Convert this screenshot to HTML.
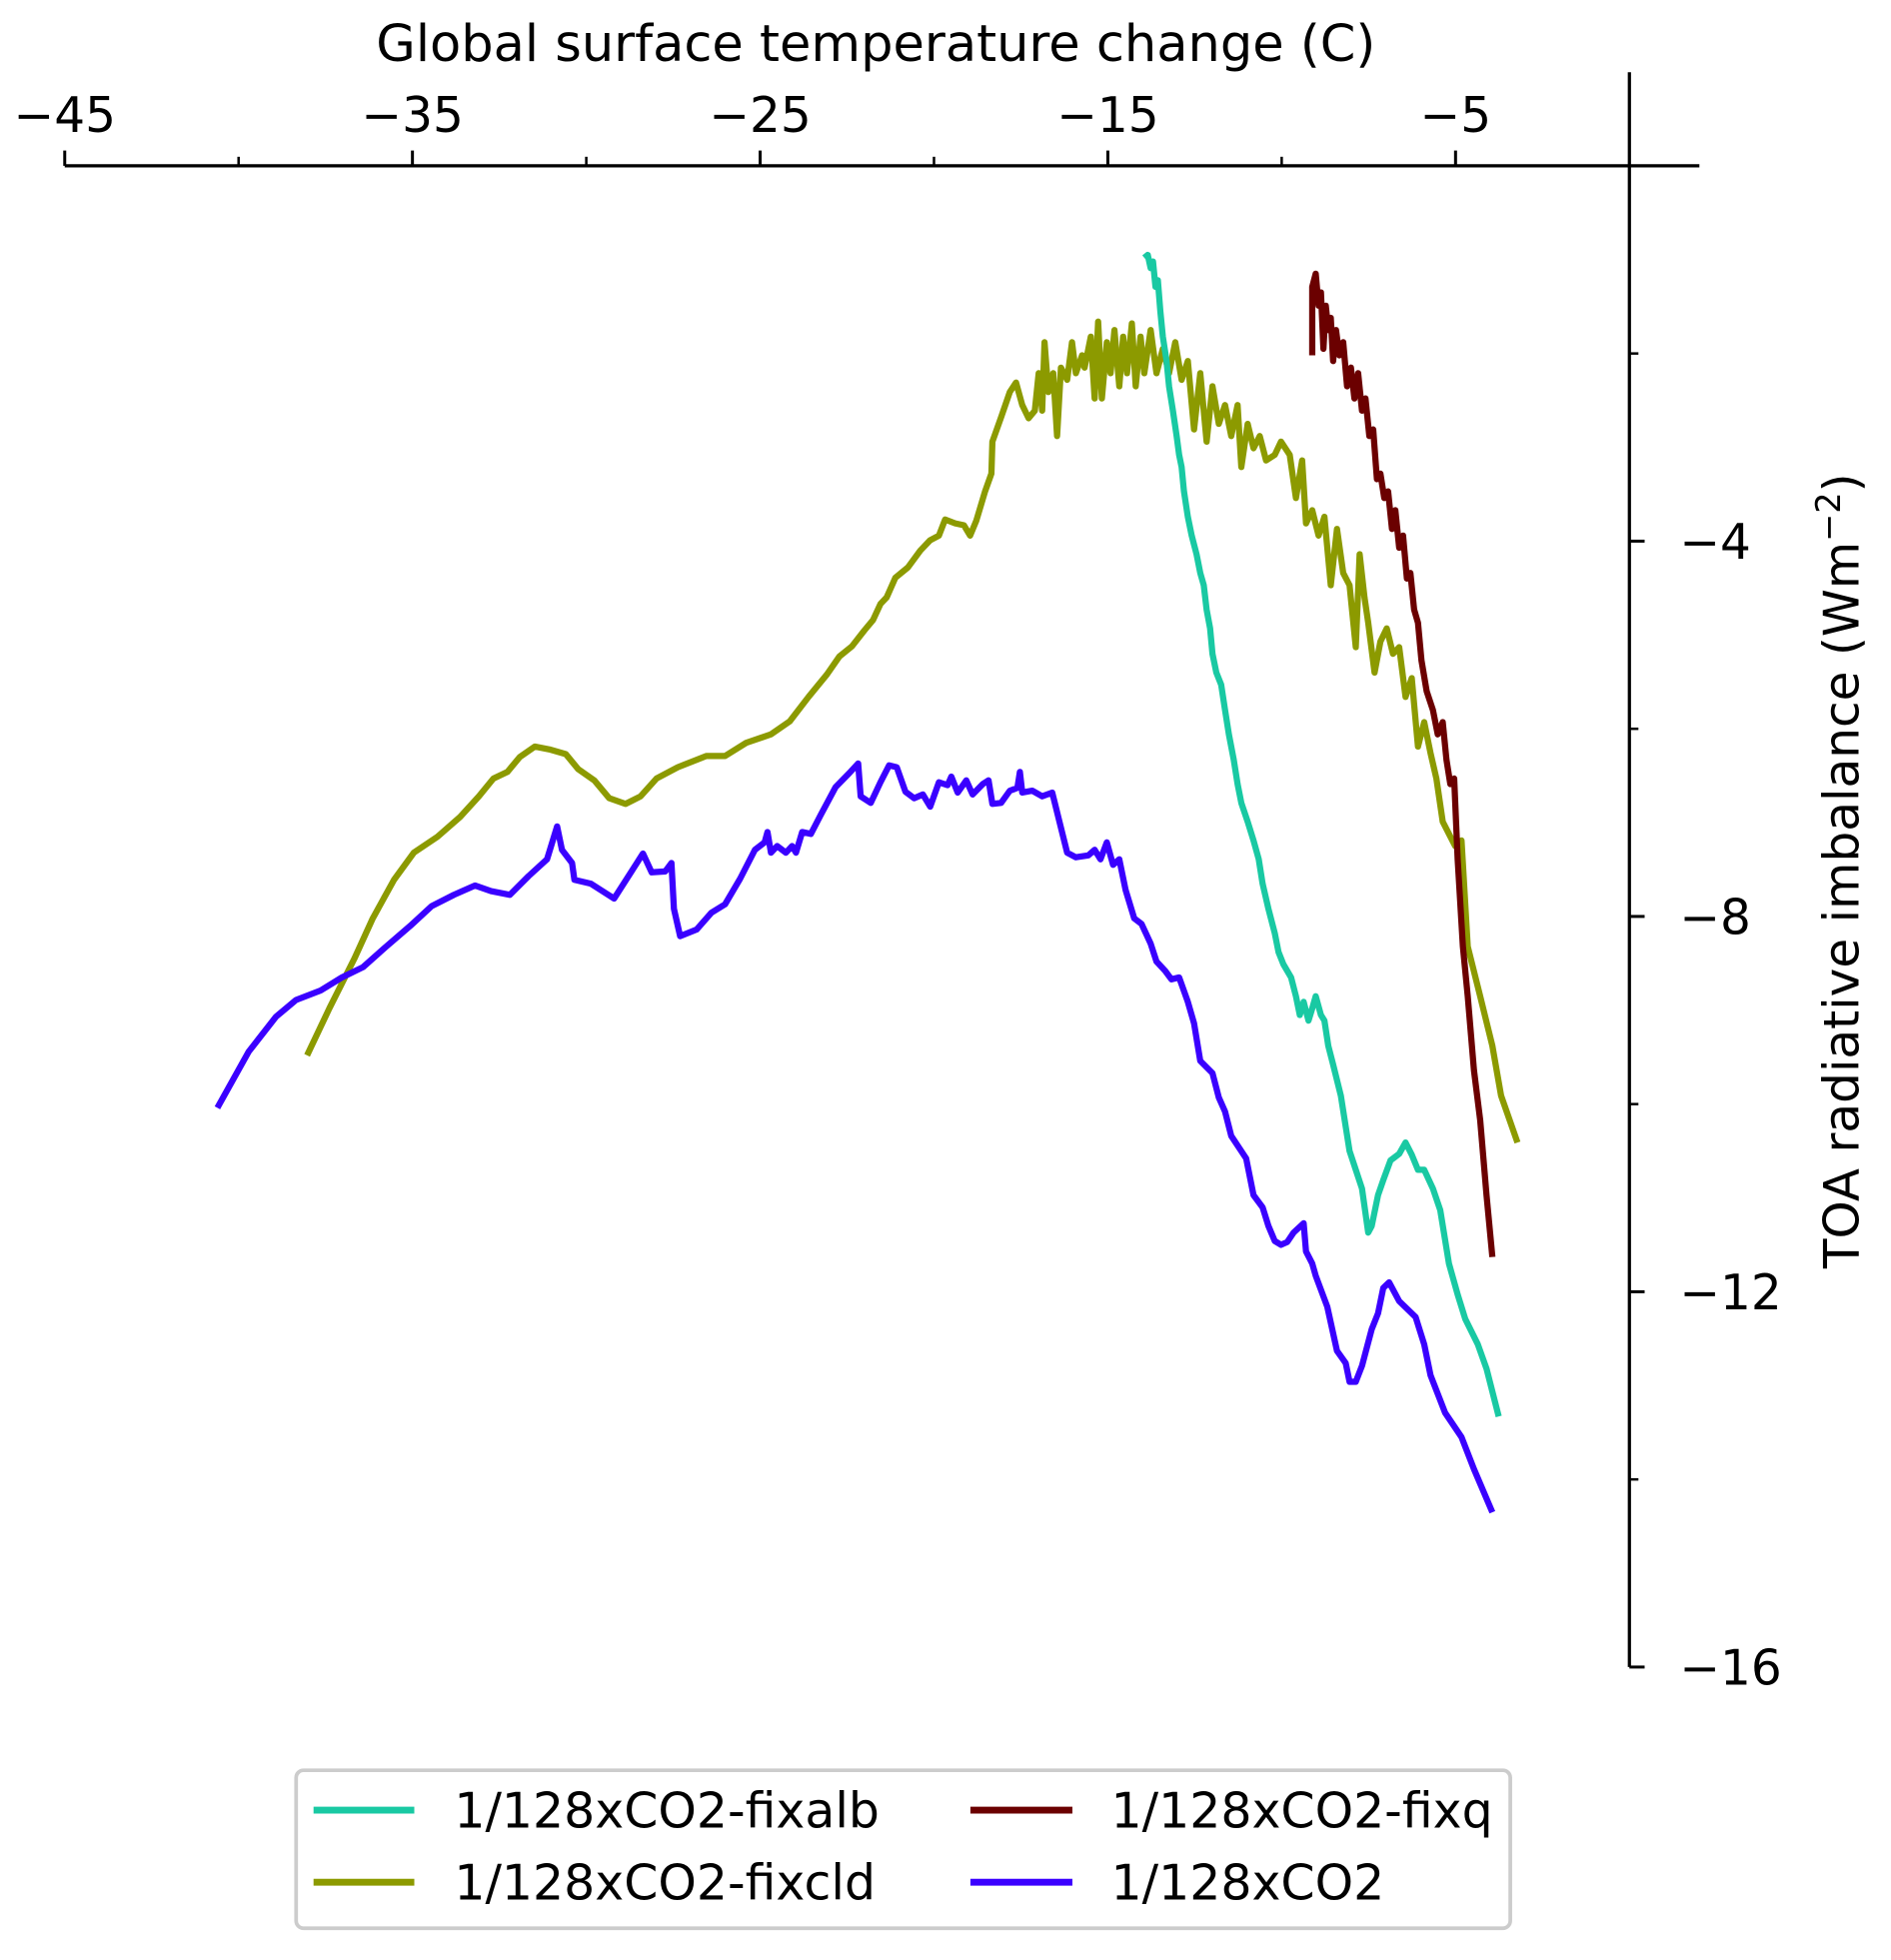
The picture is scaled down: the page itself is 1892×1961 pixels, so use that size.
<!DOCTYPE html>
<html><head><meta charset="utf-8"><style>
html,body{margin:0;padding:0;background:#fff;}
svg{display:block;font-family:"DejaVu Sans","Liberation Sans",sans-serif;}
</style></head><body>
<svg id="chart" width="1892" height="1961" viewBox="0 0 1520 1575.5" xmlns="http://www.w3.org/2000/svg">
<g id="axes"></g>
<g id="series"></g>
<text x="704" y="49" font-size="41" text-anchor="middle">Global surface temperature change (C)</text>
<text transform="translate(1494,700) rotate(-90)" font-size="39" text-anchor="middle">TOA radiative imbalance (Wm<tspan font-size="27" dy="-15">−2</tspan><tspan dy="15">)</tspan></text>
<g>
<rect x="238" y="1423" width="976" height="127" rx="6" fill="#fff" stroke="#cccccc" stroke-width="3"/>
<line x1="252" y1="1455" x2="333" y2="1455" stroke="#19c9a3" stroke-width="5.5"/>
<text x="365" y="1469" font-size="39.3">1/128xCO2-fixalb</text>
<line x1="780" y1="1455" x2="862" y2="1455" stroke="#6b0000" stroke-width="5.5"/>
<text x="893" y="1469" font-size="39.3">1/128xCO2-fixq</text>
<line x1="252" y1="1513" x2="333" y2="1513" stroke="#8c9a00" stroke-width="5.5"/>
<text x="365" y="1527" font-size="39.3">1/128xCO2-fixcld</text>
<line x1="780" y1="1513" x2="862" y2="1513" stroke="#3a00ff" stroke-width="5.5"/>
<text x="893" y="1527" font-size="39.3">1/128xCO2</text>
</g>
</svg>
<script>
const xTickValues=[-45,-35,-25,-15,-5];
const xTickLabels=["−45","−35","−25","−15","−5"];
const xMinorValues=[-40,-30,-20,-10];
const yTickValues=[-4,-8,-12,-16];
const yTickLabels=["−4","−8","−12","−16"];
const yMinorValues=[-2,-6,-10,-14];

const co2T=[-40.61,-39.71,-38.93,-38.35,-37.64,-37.03,-36.42,-35.78,-35.06,-34.45,-33.81,-33.20,-32.74,-32.20,-31.66,-31.13,-30.84,-30.70,-30.41,-30.34,-29.87,-29.20,-28.37,-28.12,-27.73,-27.55,-27.48,-27.30,-26.83,-26.40,-26.01,-25.58,-25.15,-24.87,-24.79,-24.69,-24.51,-24.26,-24.08,-23.97,-23.79,-23.54,-23.26,-22.83,-22.43,-22.18,-22.11,-21.82,-21.54,-21.29,-21.07,-20.82,-20.57,-20.32,-20.11,-19.86,-19.61,-19.50,-19.32,-19.07,-18.89,-18.60,-18.43,-18.32,-18.07,-17.82,-17.60,-17.53,-17.46,-17.17,-16.89,-16.60,-16.39,-16.17,-15.92,-15.56,-15.38,-15.21,-15.03,-14.85,-14.67,-14.49,-14.24,-14.03,-13.77,-13.60,-13.35,-13.17,-12.95,-12.70,-12.52,-12.34,-11.99,-11.81,-11.63,-11.45,-11.02,-10.81,-10.55,-10.38,-10.20,-10.02,-9.84,-9.66,-9.37,-9.30,-9.12,-9.02,-8.69,-8.41,-8.16,-8.05,-7.87,-7.69,-7.41,-7.23,-7.08,-6.91,-6.62,-6.15,-5.90,-5.72,-5.30,-4.83,-4.47,-3.94];
const co2R=[-10.04,-9.44,-9.07,-8.89,-8.79,-8.65,-8.54,-8.33,-8.10,-7.89,-7.77,-7.67,-7.73,-7.77,-7.57,-7.39,-7.04,-7.29,-7.43,-7.61,-7.65,-7.81,-7.33,-7.53,-7.52,-7.43,-7.92,-8.21,-8.14,-7.96,-7.87,-7.60,-7.29,-7.21,-7.10,-7.32,-7.25,-7.32,-7.25,-7.32,-7.10,-7.12,-6.92,-6.62,-6.47,-6.37,-6.72,-6.79,-6.57,-6.39,-6.41,-6.67,-6.74,-6.70,-6.83,-6.57,-6.60,-6.51,-6.68,-6.55,-6.70,-6.59,-6.55,-6.80,-6.79,-6.66,-6.63,-6.46,-6.68,-6.66,-6.72,-6.68,-6.99,-7.32,-7.37,-7.35,-7.29,-7.39,-7.21,-7.45,-7.39,-7.72,-8.02,-8.08,-8.29,-8.48,-8.58,-8.67,-8.65,-8.91,-9.14,-9.54,-9.67,-9.93,-10.08,-10.34,-10.58,-10.97,-11.10,-11.30,-11.46,-11.50,-11.47,-11.37,-11.27,-11.57,-11.70,-11.83,-12.16,-12.63,-12.76,-12.96,-12.96,-12.79,-12.40,-12.23,-11.96,-11.90,-12.10,-12.27,-12.56,-12.89,-13.29,-13.55,-13.89,-14.35];

const fixcldT=[-38.03,-37.39,-36.67,-36.14,-35.53,-34.96,-34.28,-33.63,-33.09,-32.67,-32.27,-31.91,-31.48,-31.06,-30.59,-30.23,-29.77,-29.34,-28.87,-28.44,-27.98,-27.37,-26.55,-26.01,-25.40,-24.69,-24.15,-23.61,-23.08,-22.72,-22.36,-22.00,-21.75,-21.54,-21.36,-21.11,-20.75,-20.39,-20.11,-19.86,-19.68,-19.39,-19.14,-18.96,-18.78,-18.53,-18.35,-18.32,-18.07,-17.82,-17.64,-17.46,-17.28,-17.10,-16.99,-16.89,-16.82,-16.71,-16.57,-16.46,-16.35,-16.17,-16.03,-15.92,-15.74,-15.67,-15.49,-15.38,-15.28,-15.17,-15.03,-14.92,-14.81,-14.67,-14.56,-14.45,-14.31,-14.20,-14.06,-13.95,-13.77,-13.60,-13.42,-13.24,-13.06,-12.88,-12.70,-12.52,-12.34,-12.16,-11.99,-11.81,-11.63,-11.45,-11.27,-11.16,-10.98,-10.81,-10.63,-10.45,-10.20,-10.02,-9.77,-9.59,-9.41,-9.30,-9.12,-8.94,-8.77,-8.59,-8.41,-8.23,-8.05,-7.87,-7.76,-7.62,-7.51,-7.33,-7.16,-6.98,-6.80,-6.62,-6.44,-6.26,-6.08,-5.90,-5.72,-5.55,-5.37,-5.19,-5.01,-4.83,-4.65,-4.29,-3.94,-3.69,-3.22];
const fixcldR=[-9.48,-8.98,-8.45,-8.02,-7.61,-7.32,-7.15,-6.94,-6.72,-6.53,-6.46,-6.30,-6.19,-6.22,-6.27,-6.43,-6.55,-6.74,-6.80,-6.72,-6.53,-6.41,-6.29,-6.29,-6.15,-6.06,-5.92,-5.66,-5.42,-5.23,-5.12,-4.95,-4.84,-4.67,-4.60,-4.39,-4.28,-4.10,-3.99,-3.94,-3.77,-3.81,-3.83,-3.94,-3.78,-3.47,-3.28,-2.94,-2.68,-2.41,-2.31,-2.55,-2.69,-2.61,-2.21,-2.61,-1.88,-2.41,-2.21,-2.88,-2.15,-2.28,-1.88,-2.21,-2.02,-2.15,-1.82,-2.48,-1.66,-2.48,-1.88,-2.21,-1.75,-2.35,-1.82,-2.21,-1.68,-2.35,-1.82,-2.21,-1.75,-2.21,-1.95,-2.21,-1.88,-2.28,-2.08,-2.81,-2.21,-2.94,-2.35,-2.75,-2.55,-2.88,-2.55,-3.21,-2.75,-3.01,-2.88,-3.14,-3.08,-2.94,-3.08,-3.54,-3.14,-3.81,-3.67,-3.94,-3.74,-4.47,-3.87,-4.34,-4.47,-5.13,-4.14,-4.60,-4.87,-5.40,-5.07,-4.93,-5.20,-5.13,-5.66,-5.46,-6.19,-5.93,-6.26,-6.53,-6.99,-7.12,-7.25,-7.19,-8.32,-8.85,-9.38,-9.91,-10.41];

const fixalbT=[-13.95,-13.85,-13.77,-13.70,-13.63,-13.56,-13.49,-13.42,-13.31,-13.24,-13.13,-13.02,-12.95,-12.88,-12.81,-12.70,-12.59,-12.45,-12.34,-12.24,-12.16,-12.06,-11.99,-11.88,-11.74,-11.63,-11.52,-11.38,-11.27,-11.16,-10.98,-10.81,-10.66,-10.55,-10.38,-10.20,-10.09,-9.95,-9.73,-9.59,-9.48,-9.37,-9.23,-9.12,-9.02,-8.87,-8.77,-8.66,-8.52,-8.30,-8.16,-8.05,-7.87,-7.69,-7.51,-7.41,-7.23,-7.08,-6.87,-6.62,-6.44,-6.26,-6.08,-5.90,-5.65,-5.44,-5.19,-4.94,-4.72,-4.36,-4.11,-3.76];
const fixalbR=[-0.98,-0.95,-1.09,-1.02,-1.29,-1.22,-1.55,-1.82,-2.08,-2.35,-2.61,-2.88,-3.08,-3.21,-3.47,-3.74,-3.94,-4.14,-4.34,-4.47,-4.73,-4.93,-5.20,-5.40,-5.53,-5.80,-6.06,-6.33,-6.59,-6.79,-6.99,-7.19,-7.39,-7.65,-7.92,-8.18,-8.38,-8.51,-8.65,-8.85,-9.05,-8.91,-9.11,-8.98,-8.85,-9.05,-9.11,-9.38,-9.58,-9.91,-10.24,-10.50,-10.70,-10.90,-11.37,-11.30,-10.97,-10.81,-10.60,-10.53,-10.41,-10.54,-10.70,-10.70,-10.90,-11.13,-11.70,-12.03,-12.29,-12.56,-12.82,-13.33];

const fixqT=[-9.12,-9.12,-9.02,-8.94,-8.87,-8.80,-8.73,-8.66,-8.59,-8.52,-8.44,-8.34,-8.23,-8.12,-8.01,-7.91,-7.80,-7.69,-7.59,-7.48,-7.37,-7.26,-7.16,-7.05,-6.94,-6.83,-6.73,-6.62,-6.51,-6.40,-6.30,-6.19,-6.08,-5.98,-5.83,-5.65,-5.51,-5.37,-5.26,-5.15,-5.04,-4.94,-4.79,-4.65,-4.47,-4.29,-4.11,-3.94];
const fixqR=[-2.02,-1.29,-1.15,-1.49,-1.35,-1.95,-1.49,-1.75,-1.62,-2.08,-1.75,-2.02,-1.88,-2.35,-2.15,-2.48,-2.21,-2.61,-2.48,-2.88,-2.81,-3.34,-3.28,-3.54,-3.47,-3.87,-3.67,-4.07,-3.94,-4.40,-4.34,-4.73,-4.87,-5.27,-5.60,-5.80,-6.06,-5.93,-6.33,-6.59,-6.53,-7.39,-8.32,-8.85,-9.64,-10.17,-10.97,-11.63];

const NS="http://www.w3.org/2000/svg";
function xs(t){return 1309.75+27.95*t;}
function ys(r){return 133.3-75.42*r;}
function mk(tag,attrs,parent){const e=document.createElementNS(NS,tag);for(const k in attrs)e.setAttribute(k,attrs[k]);parent.appendChild(e);return e;}

const axes=document.getElementById('axes');
let e;
e=mk('line',{x1:52,y1:133.3,x2:1366,y2:133.3,stroke:'#000','stroke-width':2.6},axes);


e=mk('line',{x1:1309.75,y1:58,x2:1309.75,y2:1340,stroke:'#000','stroke-width':2.6},axes);


xTickValues.forEach((v,i)=>{
  const t=mk('line',{x1:xs(v),y1:133.3,x2:xs(v),y2:121,stroke:'#000','stroke-width':2.4},axes);
  
  
  const l=mk('text',{x:xs(v),y:106,'font-size':39,'text-anchor':'middle'},axes);
  l.textContent=xTickLabels[i];
  
  
});
xMinorValues.forEach(v=>{
  const t=mk('line',{x1:xs(v),y1:133.3,x2:xs(v),y2:126,stroke:'#000','stroke-width':2},axes);
  
  
});
yTickValues.forEach((v,i)=>{
  const t=mk('line',{x1:1309.75,y1:ys(v),x2:1322,y2:ys(v),stroke:'#000','stroke-width':2.4},axes);
  
  
  const l=mk('text',{x:1350,y:ys(v)+14,'font-size':39},axes);
  l.textContent=yTickLabels[i];
  
  
});
yMinorValues.forEach(v=>{
  const t=mk('line',{x1:1309.75,y1:ys(v),x2:1317,y2:ys(v),stroke:'#000','stroke-width':2},axes);
  
  
});

const series=document.getElementById('series');
function draw(T,R,color,name){
  const d=T.map((t,i)=>(i?'L':'M')+xs(t).toFixed(1)+','+ys(R[i]).toFixed(1)).join(' ');
  const p=mk('path',{d:d,fill:'none',stroke:color,'stroke-width':5,'stroke-linejoin':'round'},series);
  
  
}
draw(fixcldT,fixcldR,'#8c9a00','line-fixcld');
draw(co2T,co2R,'#3a00ff','line-co2');
draw(fixalbT,fixalbR,'#19c9a3','line-fixalb');
draw(fixqT,fixqR,'#6b0000','line-fixq');
</script>
</body></html>
